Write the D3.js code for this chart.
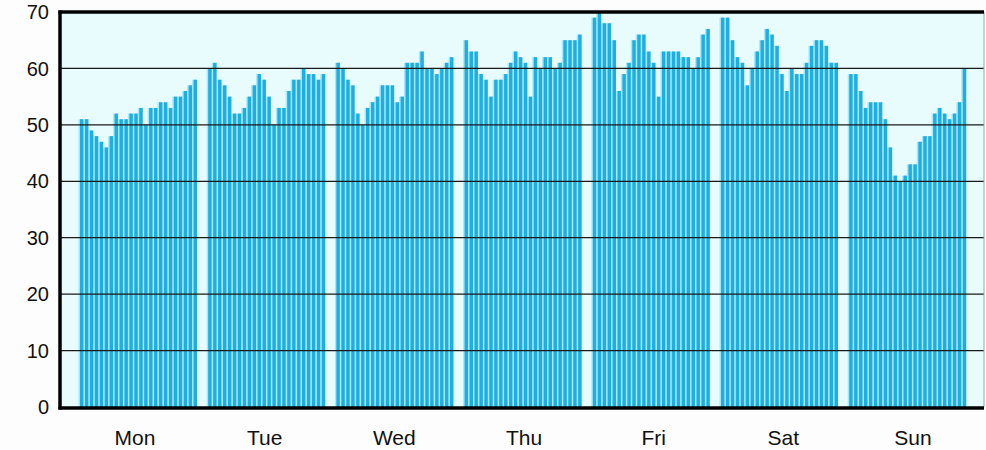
<!DOCTYPE html>
<html>
<head>
<meta charset="utf-8">
<script src="https://cdn.jsdelivr.net/npm/d3@7"></script>
<style>
  body { margin: 0; background: #fdfdfd; }
  svg { display: block; font-family: "Liberation Sans", Arial, sans-serif; }
</style>
</head>
<body>
<div id="chart"></div>
<script>
// hourly values, one array per day
const days = ["Mon", "Tue", "Wed", "Thu", "Fri", "Sat", "Sun"];
const mon = [51, 51, 49, 48, 47, 46, 48, 52, 51, 51, 52, 52, 53, 50, 53, 53, 54, 54, 53, 55, 55, 56, 57, 58];
const tue = [60, 61, 58, 57, 55, 52, 52, 53, 55, 57, 59, 58, 55, 50, 53, 53, 56, 58, 58, 60, 59, 59, 58, 59];
const wed = [61, 60, 58, 57, 52, 50, 53, 54, 55, 57, 57, 57, 54, 55, 61, 61, 61, 63, 60, 60, 59, 60, 61, 62];
const thu = [65, 63, 63, 59, 58, 55, 58, 58, 59, 61, 63, 62, 61, 55, 62, 60, 62, 62, 60, 61, 65, 65, 65, 66];
const fri = [69, 70, 68, 68, 65, 56, 59, 61, 65, 66, 66, 63, 61, 55, 63, 63, 63, 63, 62, 62, 60, 62, 66, 67];
const sat = [69, 69, 65, 62, 61, 57, 60, 63, 65, 67, 66, 64, 59, 56, 60, 59, 59, 61, 64, 65, 65, 64, 61, 61];
const sun = [59, 59, 56, 53, 54, 54, 54, 51, 46, 41, 40, 41, 43, 43, 47, 48, 48, 52, 53, 52, 51, 52, 54, 60];
const series = [mon, tue, wed, thu, fri, sat, sun];
const yTicks = [0, 10, 20, 30, 40, 50, 60, 70];

const width = 986, height = 450;
const margin = { left: 60, right: 984, top: 12, bottom: 407 };

const svg = d3.select("#chart").append("svg")
    .attr("width", width)
    .attr("height", height);

const y = d3.scaleLinear().domain([0, 70]).range([margin.bottom, margin.top]);

const x = d3.scaleBand()
    .domain(days)
    .range([78.5, 967.7])
    .paddingInner(0.064)
    .paddingOuter(0);

const hour = d3.scaleBand()
    .domain(d3.range(24))
    .range([0, x.bandwidth()])
    .padding(0.3);

// the printed day labels sit on a slightly wider spacing than the bar groups
const xLabel = d3.scalePoint().domain(days).range([135, 913]);

// plot background
svg.append("rect")
    .attr("x", margin.left).attr("y", margin.top)
    .attr("width", margin.right - margin.left).attr("height", margin.bottom - margin.top)
    .attr("fill", "#e8fbfd");

const data = [];
days.forEach((d, i) => series[i].forEach((v, h) => data.push({ day: d, hour: h, value: v })));

// light halo between the printed bars
svg.append("g").selectAll("rect")
    .data(data)
    .join("rect")
    .attr("x", d => x(d.day) + hour.step() * d.hour)
    .attr("y", d => y(d.value))
    .attr("width", hour.step())
    .attr("height", d => y(0) - y(d.value))
    .attr("fill", "#a9e8f7");

svg.append("g").selectAll("rect")
    .data(data)
    .join("rect")
    .attr("x", d => x(d.day) + hour(d.hour))
    .attr("y", d => y(d.value))
    .attr("width", hour.bandwidth())
    .attr("height", d => y(0) - y(d.value))
    .attr("fill", "#1eafe2");

// gridlines over the bars
svg.append("g").selectAll("line")
    .data(yTicks.filter(t => t > 0 && t < 70))
    .join("line")
    .attr("x1", margin.left).attr("x2", margin.right)
    .attr("y1", d => y(d)).attr("y2", d => y(d))
    .attr("stroke", "#1a1a1a")
    .attr("stroke-width", 1.2);

// frame
svg.append("line")
    .attr("x1", margin.right).attr("x2", margin.right)
    .attr("y1", margin.top).attr("y2", margin.bottom)
    .attr("stroke", "#9aa8aa").attr("stroke-width", 1);
svg.append("line")
    .attr("x1", margin.left - 1.5).attr("x2", margin.right)
    .attr("y1", margin.top).attr("y2", margin.top)
    .attr("stroke", "#000").attr("stroke-width", 3.5);
svg.append("line")
    .attr("x1", margin.left - 1.5).attr("x2", margin.right)
    .attr("y1", margin.bottom + 1).attr("y2", margin.bottom + 1)
    .attr("stroke", "#000").attr("stroke-width", 3.5);
svg.append("line")
    .attr("x1", margin.left).attr("x2", margin.left)
    .attr("y1", margin.top - 1.5).attr("y2", margin.bottom + 2.5)
    .attr("stroke", "#000").attr("stroke-width", 3.5);

// y tick labels
svg.append("g").selectAll("text")
    .data(yTicks)
    .join("text")
    .attr("x", 49)
    .attr("y", d => y(d))
    .attr("dy", "0.36em")
    .attr("text-anchor", "end")
    .attr("font-size", 20)
    .attr("fill", "#111")
    .text(d => d);

// day labels
svg.append("g").selectAll("text")
    .data(days)
    .join("text")
    .attr("x", d => xLabel(d))
    .attr("y", 445)
    .attr("text-anchor", "middle")
    .attr("font-size", 21)
    .attr("fill", "#111")
    .text(d => d);
</script>
</body>
</html>
